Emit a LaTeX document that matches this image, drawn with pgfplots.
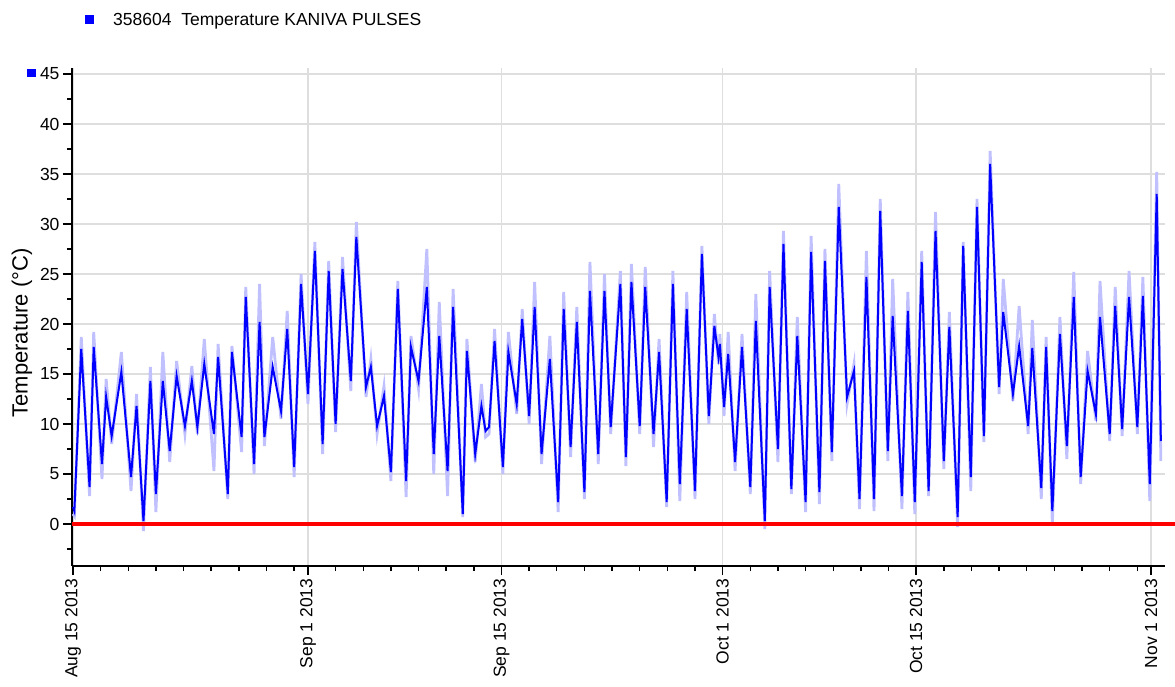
\documentclass[border=0pt]{standalone}
\usepackage{fontspec}
\setmainfont{Liberation Sans}
\usepackage{pgfplots}
\usepackage{pgfplotstable}
\pgfplotsset{compat=1.18}
\definecolor{dblue}{RGB}{0,0,255}
\definecolor{lblue}{RGB}{192,192,255}
\definecolor{gridgray}{RGB}{222,222,222}
\newcommand\tf{\fontsize{17.5}{20}\selectfont}
\pgfplotstableread{
d t l
0.0 1.7 1.0
0.1 1.3 0.8
0.6 17.5 18.7
1.2 3.7 2.8
1.5 17.7 19.2
2.1 6.0 4.5
2.4 12.7 14.5
2.8 8.8 8.0
3.5 15.2 17.2
4.2 4.7 3.3
4.6 11.8 13.0
5.1 0.3 -0.7
5.6 14.3 15.7
6.0 3.0 1.2
6.5 14.3 17.2
7.0 7.3 6.2
7.5 14.8 16.3
8.1 9.8 9.0
8.6 14.3 15.8
9.0 9.7 9.0
9.5 16.0 18.5
10.2 9.0 5.3
10.5 16.7 18.0
11.2 3.0 2.5
11.5 17.2 17.8
12.2 8.7 7.2
12.5 22.7 23.7
13.1 6.0 5.0
13.5 20.2 24.0
13.85 8.7 7.8
14.45 15.7 18.7
15.05 11.3 10.5
15.5 19.5 21.3
16.0 5.7 4.7
16.5 24.0 25.0
17.0 13.0 12.0
17.5 27.3 28.2
18.06 8.0 7.0
18.5 25.3 26.3
19.0 10.0 9.2
19.5 25.5 26.7
20.1 14.3 13.3
20.5 28.7 30.2
21.2 13.7 12.7
21.55 15.7 16.5
22.0 9.8 9.0
22.5 12.8 13.8
23.0 5.2 4.3
23.5 23.5 24.3
24.1 4.3 2.7
24.45 17.7 18.8
25.0 14.3 13.5
25.6 23.7 27.5
26.1 7.0 5.0
26.5 18.8 22.2
27.1 5.3 2.8
27.5 21.7 23.5
28.2 1.0 0.7
28.5 17.3 18.5
29.1 7.0 6.2
29.55 11.8 14.0
29.85 9.3 8.7
30.1 9.7 9.0
30.5 18.3 19.5
31.1 5.7 5.0
31.5 17.2 19.2
32.1 12.0 11.0
32.5 20.5 21.5
33.0 10.8 10.0
33.4 21.7 24.2
33.9 7.0 6.0
34.5 16.5 18.8
35.1 2.2 1.2
35.5 21.5 23.2
36.0 7.7 6.7
36.45 20.2 21.7
37.0 3.2 2.5
37.4 23.3 26.2
38.0 7.0 6.0
38.45 23.3 25.0
38.9 9.7 9.0
39.6 24.0 25.3
40.0 6.7 5.8
40.4 24.2 26.0
41.0 9.8 9.0
41.4 23.7 25.7
42.0 9.0 7.7
42.4 17.2 18.5
42.95 2.2 1.7
43.4 24.0 25.3
43.9 4.0 2.3
44.4 21.5 23.2
45.0 3.3 2.5
45.5 27.0 27.8
46.0 10.8 10.0
46.4 19.8 21.0
46.7 16.7 16.0
46.8 18.0 19.0
47.1 11.7 10.8
47.4 17.0 19.2
47.9 6.2 5.3
48.4 17.7 19.0
49.0 3.7 3.0
49.4 20.3 23.0
50.05 0.3 -0.5
50.4 23.7 25.3
51.0 7.5 6.2
51.4 28.0 29.3
51.97 3.5 3.0
52.4 18.8 20.7
53.0 2.2 1.2
53.4 27.2 28.8
54.0 3.2 2.0
54.4 26.3 27.5
54.9 7.2 6.3
55.4 31.7 34.0
56.0 12.7 12.0
56.5 15.3 16.0
56.9 2.5 1.5
57.4 24.7 27.3
57.95 2.5 1.3
58.4 31.3 32.5
58.95 7.3 6.3
59.3 20.8 24.5
59.97 2.8 1.5
60.4 21.3 23.2
60.9 2.2 1.0
61.4 26.2 27.3
61.9 3.3 2.8
62.4 29.3 31.2
63.0 6.3 5.5
63.4 19.7 21.2
64.0 0.7 -0.3
64.4 27.8 28.2
64.95 4.7 3.3
65.4 31.7 32.5
65.9 8.8 8.2
66.35 36.0 37.3
67.0 13.7 13.0
67.3 21.2 24.5
68.0 13.0 12.3
68.45 17.8 21.8
69.1 9.8 9.0
69.4 17.6 20.4
70.05 3.6 2.5
70.4 17.7 18.7
70.85 1.3 0.0
71.4 19.0 20.7
71.9 7.8 6.5
72.4 22.7 25.2
72.9 4.7 4.0
73.4 15.3 17.3
74.0 11.0 10.3
74.3 20.7 24.3
75.0 9.0 8.3
75.4 21.8 23.7
75.9 9.5 8.8
76.4 22.7 25.3
77.0 9.7 9.0
77.4 22.8 24.7
77.9 4.0 2.3
78.4 33.0 35.2
78.7 8.3 6.3
}\datatable
\begin{document}
\begin{tikzpicture}
\path[use as bounding box] (0pt,0pt) rectangle (1175pt,686pt);
\begin{axis}[
  at={(72pt,120pt)}, anchor=south west,
  scale only axis, width=1093pt, height=498pt,
  xmin=-0.07, xmax=79.0, ymin=-4.2, ymax=45.6,
  axis x line*=bottom, axis y line*=left,
  axis line style={black, line width=1.6pt},
  clip=false,
  tick align=outside,
  major tick length=9pt, minor tick length=5pt,
  every tick/.style={black, line width=1.4pt},
  xtick={0,17,31,47,61,78},
  xticklabels={Aug 15 2013, Sep 1 2013, Sep 15 2013, Oct 1 2013, Oct 15 2013, Nov 1 2013},
  minor xtick={2,4,6,8,10,12,14,16,19,21,23,25,27,29,33,35,37,39,41,43,45,49,51,53,55,57,59,63,65,67,69,71,73,75,77},
  xticklabel style={rotate=90, anchor=east, font=\tf},
  ytick={0,5,...,45},
  minor ytick={-2.5,2.5,7.5,...,42.5},
  yticklabel style={font=\tf},
  /pgf/number format/assume math mode=true,
  xmajorgrids, ymajorgrids,
  major grid style={gridgray, line width=1.5pt},
  ylabel={Temperature (°C)},
  every axis y label/.style={at={(axis description cs:-0.0457,0.468)}, anchor=center, rotate=90, font=\fontsize{22}{24}\selectfont},
  legend style={draw=none, fill=none, inner sep=0pt, at={(axis description cs:0.0119,1.0964)}, anchor=west,
    nodes={inner sep=0pt, anchor=west}, font=\tf,
    /tikz/every odd column/.append style={column sep=19pt}},
  legend cell align=left,
]
\addplot[lblue, line width=2.8pt, forget plot] table[x=d, y=l] {\datatable};
\addplot[dblue, line width=2pt, legend image code/.code={\fill[dblue] (0pt,-3.5pt) rectangle (7pt,3.5pt);}] table[x=d, y=t] {\datatable};
\addlegendentry{358604\ \ Temperature KANIVA PULSES}
\addplot[red, line width=4pt, forget plot] coordinates {(-0.07,0) (79.75,0)};
\fill[dblue] (axis description cs:-0.0412,0.982) rectangle (axis description cs:-0.0329,0.998);
\end{axis}
\end{tikzpicture}
\end{document}
